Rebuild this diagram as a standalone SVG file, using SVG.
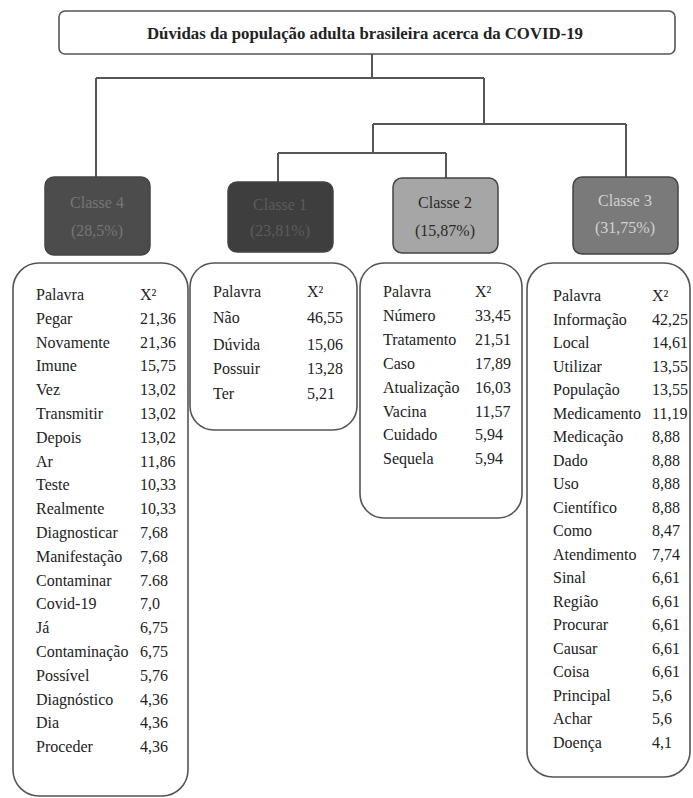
<svg xmlns="http://www.w3.org/2000/svg" width="693" height="798" viewBox="0 0 693 798" font-family="'Liberation Serif', 'Times New Roman', serif" font-size="16">
<style>
text{font-family:'Liberation Serif','Times New Roman',serif;font-size:16px;fill:#222}
.title{font-weight:bold;font-size:17px}
.tbl{fill:#fff;stroke:#555;stroke-width:1.6}
.cls{stroke:#444;stroke-width:1.5}
.cl{text-anchor:middle}
#connectors path{fill:none;stroke:#555;stroke-width:2}
</style>
<rect width="693" height="798" fill="#fff"/>
<g id="title">
<rect x="59" y="11" width="616" height="43" rx="6" fill="#fff" stroke="#555" stroke-width="1.6"/>
<text class="title" x="365" y="39" text-anchor="middle" textLength="436" lengthAdjust="spacingAndGlyphs" font-family="Liberation Serif" font-weight="bold">Dúvidas da população adulta brasileira acerca da COVID-19</text>
</g>
<g id="connectors">
<path d="M372 54V78M96 78H484M96 78V177M484 78V124M373 124H626M626 124V177M373 124V153M278 153H446M278 153V182M446 153V178"/>
</g>
<g id="classe4" font-family="Liberation Serif">
<rect class="cls" x="45" y="177" width="105" height="78" rx="9" fill="#4c4c4c"/>
<text class="cl" x="97" y="208" style="fill:#767676">Classe 4</text>
<text class="cl" x="97" y="236" style="fill:#767676">(28,5%)</text>
</g>
<g id="classe1" font-family="Liberation Serif">
<rect class="cls" x="228" y="182" width="105" height="70" rx="9" fill="#3e3e3e"/>
<text class="cl" x="280" y="210" style="fill:#5c5c5c">Classe 1</text>
<text class="cl" x="280" y="236" style="fill:#5c5c5c">(23,81%)</text>
</g>
<g id="classe2" font-family="Liberation Serif">
<rect class="cls" x="393" y="178" width="105" height="75" rx="9" fill="#a6a6a6"/>
<text class="cl" x="445" y="208" style="fill:#2a2a2a">Classe 2</text>
<text class="cl" x="445" y="236" style="fill:#2a2a2a">(15,87%)</text>
</g>
<g id="classe3" font-family="Liberation Serif">
<rect class="cls" x="573" y="177" width="105" height="77" rx="9" fill="#7a7a7a"/>
<text class="cl" x="625" y="206" style="fill:#d2d2d2">Classe 3</text>
<text class="cl" x="625" y="233" style="fill:#d2d2d2">(31,75%)</text>
</g>
<g id="tabela4" font-family="Liberation Serif">
<rect class="tbl" x="13" y="263" width="175" height="533" rx="26"/>
<g transform="translate(36,300)">
<text y="0">Palavra</text><text x="104" y="0">X²</text>
<text y="23.8">Pegar</text><text x="104" y="23.8">21,36</text>
<text y="47.6">Novamente</text><text x="104" y="47.6">21,36</text>
<text y="71.4">Imune</text><text x="104" y="71.4">15,75</text>
<text y="95.2">Vez</text><text x="104" y="95.2">13,02</text>
<text y="119">Transmitir</text><text x="104" y="119">13,02</text>
<text y="142.8">Depois</text><text x="104" y="142.8">13,02</text>
<text y="166.6">Ar</text><text x="104" y="166.6">11,86</text>
<text y="190.4">Teste</text><text x="104" y="190.4">10,33</text>
<text y="214.2">Realmente</text><text x="104" y="214.2">10,33</text>
<text y="238">Diagnosticar</text><text x="104" y="238">7,68</text>
<text y="261.8">Manifestação</text><text x="104" y="261.8">7,68</text>
<text y="285.6">Contaminar</text><text x="104" y="285.6">7.68</text>
<text y="309.4">Covid-19</text><text x="104" y="309.4">7,0</text>
<text y="333.2">Já</text><text x="104" y="333.2">6,75</text>
<text y="357">Contaminação</text><text x="104" y="357">6,75</text>
<text y="380.8">Possível</text><text x="104" y="380.8">5,76</text>
<text y="404.6">Diagnóstico</text><text x="104" y="404.6">4,36</text>
<text y="428.4">Dia</text><text x="104" y="428.4">4,36</text>
<text y="452.2">Proceder</text><text x="104" y="452.2">4,36</text>
</g>
</g>
<g id="tabela1" font-family="Liberation Serif">
<rect class="tbl" x="190" y="263" width="167" height="167" rx="24"/>
<g transform="translate(213,297)">
<text y="0">Palavra</text><text x="94" y="0">X²</text>
<text y="26">Não</text><text x="94" y="26">46,55</text>
<text y="53">Dúvida</text><text x="94" y="53">15,06</text>
<text y="77">Possuir</text><text x="94" y="77">13,28</text>
<text y="102">Ter</text><text x="94" y="102">5,21</text>
</g>
</g>
<g id="tabela2" font-family="Liberation Serif">
<rect class="tbl" x="360" y="263" width="162" height="255" rx="24"/>
<g transform="translate(383,297)">
<text y="0">Palavra</text><text x="92" y="0">X²</text>
<text y="23.9">Número</text><text x="92" y="23.9">33,45</text>
<text y="47.8">Tratamento</text><text x="92" y="47.8">21,51</text>
<text y="71.7">Caso</text><text x="92" y="71.7">17,89</text>
<text y="95.6">Atualização</text><text x="92" y="95.6">16,03</text>
<text y="119.5">Vacina</text><text x="92" y="119.5">11,57</text>
<text y="143.4">Cuidado</text><text x="92" y="143.4">5,94</text>
<text y="167.3">Sequela</text><text x="92" y="167.3">5,94</text>
</g>
</g>
<g id="tabela3" font-family="Liberation Serif">
<rect class="tbl" x="527" y="263" width="163" height="514" rx="26"/>
<g transform="translate(553,301)">
<text y="0">Palavra</text><text x="99" y="0">X²</text>
<text y="23.5">Informação</text><text x="99" y="23.5">42,25</text>
<text y="47">Local</text><text x="99" y="47">14,61</text>
<text y="70.5">Utilizar</text><text x="99" y="70.5">13,55</text>
<text y="94">População</text><text x="99" y="94">13,55</text>
<text y="117.5">Medicamento</text><text x="99" y="117.5">11,19</text>
<text y="141">Medicação</text><text x="99" y="141">8,88</text>
<text y="164.5">Dado</text><text x="99" y="164.5">8,88</text>
<text y="188">Uso</text><text x="99" y="188">8,88</text>
<text y="211.5">Científico</text><text x="99" y="211.5">8,88</text>
<text y="235">Como</text><text x="99" y="235">8,47</text>
<text y="258.5">Atendimento</text><text x="99" y="258.5">7,74</text>
<text y="282">Sinal</text><text x="99" y="282">6,61</text>
<text y="305.5">Região</text><text x="99" y="305.5">6,61</text>
<text y="329">Procurar</text><text x="99" y="329">6,61</text>
<text y="352.5">Causar</text><text x="99" y="352.5">6,61</text>
<text y="376">Coisa</text><text x="99" y="376">6,61</text>
<text y="399.5">Principal</text><text x="99" y="399.5">5,6</text>
<text y="423">Achar</text><text x="99" y="423">5,6</text>
<text y="446.5">Doença</text><text x="99" y="446.5">4,1</text>
</g>
</g>
</svg>
